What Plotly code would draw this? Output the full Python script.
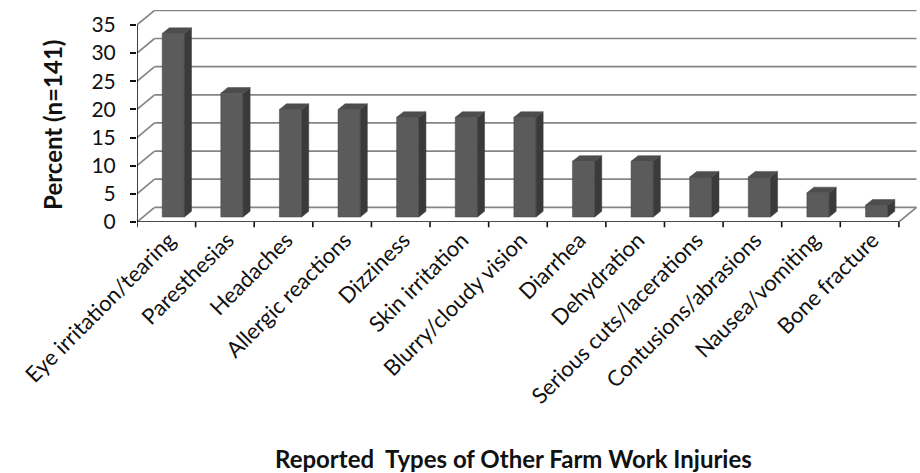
import plotly.graph_objects as go

categories = ["Eye irritation/tearing", "Paresthesias", "Headaches", "Allergic reactions",
              "Dizziness", "Skin irritation", "Blurry/cloudy vision", "Diarrhea", "Dehydration",
              "Serious cuts/lacerations", "Contusions/abrasions", "Nausea/vomiting", "Bone fracture"]
values = [32.6, 22.0, 19.1, 19.1, 17.7, 17.7, 17.7, 9.9, 9.9, 7.1, 7.1, 4.3, 2.1]
y_ticks = [0, 5, 10, 15, 20, 25, 30, 35]

# geometry of the pseudo-3D frame (data units)
N = len(categories)
WALL_DX, WALL_DY = 0.30, 2.6      # depth of floor / walls
BAR_SHIFT_X, BAR_BASE = 0.12, 0.89  # front face of bars set back into the floor
BAR_W = 0.38
BAR_DX, BAR_DY = 0.12, 1.0        # bar depth
LABEL_SHIFT = 0.05
XMAX = N + WALL_DX + 0.06
YMAX = y_ticks[-1] + WALL_DY + 0.06

GRID = "#858585"
FRONT = "#5b5b5b"
SIDE = "#3a3a3a"
TOP = "#4d4d4d"
FONT = "Lato"

shapes = []
# back-wall gridlines and left-wall diagonals
for t in y_ticks:
    shapes.append(dict(type="line", xref="x", yref="y", x0=WALL_DX, x1=N + WALL_DX,
                       y0=t + WALL_DY, y1=t + WALL_DY, line=dict(color=GRID, width=1.7), layer="below"))
    shapes.append(dict(type="line", xref="x", yref="y", x0=0, x1=WALL_DX,
                       y0=t, y1=t + WALL_DY, line=dict(color=GRID, width=1.7), layer="below"))
# floor right diagonal
shapes.append(dict(type="line", xref="x", yref="y", x0=N, x1=N + WALL_DX, y0=0, y1=WALL_DY,
                   line=dict(color=GRID, width=1.7), layer="below"))
# front axis lines
shapes.append(dict(type="line", xref="x", yref="y", x0=0, x1=0, y0=0, y1=y_ticks[-1],
                   line=dict(color="#111111", width=1.6), layer="below"))
shapes.append(dict(type="line", xref="x", yref="y", x0=0, x1=N, y0=0, y1=0,
                   line=dict(color="#111111", width=1.6), layer="below"))
# category boundary tick marks
for i in range(N + 1):
    shapes.append(dict(type="line", xref="x", yref="paper", x0=i, x1=i, y0=0, y1=-0.025,
                       line=dict(color="#111111", width=1.6)))

centers = [i + 0.5 for i in range(N)]
fx = [c + BAR_SHIFT_X for c in centers]

fig = go.Figure()
fig.add_trace(go.Bar(x=fx, y=values, base=BAR_BASE, width=BAR_W,
                     marker=dict(color=FRONT, line=dict(color="#444444", width=0.5)),
                     hoverinfo="skip"))

side_x, side_y, top_x, top_y = [], [], [], []
for x, v in zip(fx, values):
    xl, xr = x - BAR_W / 2, x + BAR_W / 2
    yb, yt = BAR_BASE, BAR_BASE + v
    side_x += [xr, xr + BAR_DX, xr + BAR_DX, xr, xr, None]
    side_y += [yb, yb + BAR_DY, yt + BAR_DY, yt, yb, None]
    top_x += [xl, xl + BAR_DX, xr + BAR_DX, xr, xl, None]
    top_y += [yt, yt + BAR_DY, yt + BAR_DY, yt, yt, None]

fig.add_trace(go.Scatter(x=side_x, y=side_y, mode="lines", fill="toself", fillcolor=SIDE,
                         line=dict(color=SIDE, width=0.5), hoverinfo="skip"))
fig.add_trace(go.Scatter(x=top_x, y=top_y, mode="lines", fill="toself", fillcolor=TOP,
                         line=dict(color=TOP, width=0.5), hoverinfo="skip"))

fig.update_layout(
    width=920, height=473,
    margin=dict(l=137, r=0, t=10, b=251),
    paper_bgcolor="white", plot_bgcolor="white",
    showlegend=False,
    shapes=shapes,
    font=dict(family=FONT, color="#111111"),
    xaxis=dict(range=[0, XMAX], tickvals=[c + LABEL_SHIFT for c in centers], ticktext=categories,
               tickangle=-45, ticks="", showgrid=False, zeroline=False, showline=False,
               tickfont=dict(size=22, family=FONT, color="#111111")),
    yaxis=dict(range=[0, YMAX], tickvals=y_ticks, ticks="outside", ticklen=6, tickwidth=1.6,
               tickcolor="#111111", showgrid=False, zeroline=False, showline=False,
               ticklabelstandoff=10,
               tickfont=dict(size=21, family=FONT, color="#111111")),
    annotations=[
        dict(text="<b>Percent (n=141)</b>", xref="paper", yref="paper", x=-0.108, y=0.46,
             textangle=-90, showarrow=False, font=dict(size=24, family=FONT, color="#111111"),
             xanchor="center", yanchor="middle"),
        dict(text="<b>Reported  Types of Other Farm Work Injuries</b>", xref="paper", yref="paper",
             x=0.481, y=-1.115, showarrow=False, font=dict(size=24, family=FONT, color="#111111"),
             xanchor="center", yanchor="middle"),
    ],
)

fig.write_html("out.html")
